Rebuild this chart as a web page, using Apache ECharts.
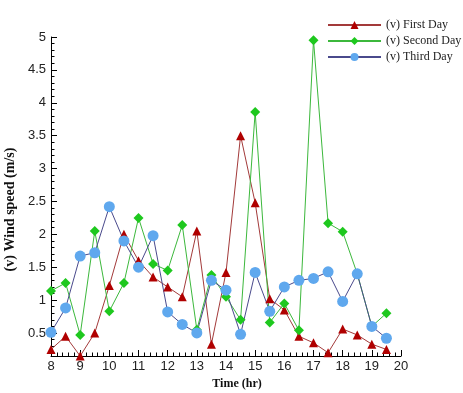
<!DOCTYPE html>
<html>
<head>
<meta charset="utf-8">
<script src="https://cdn.jsdelivr.net/npm/echarts@6/dist/echarts.min.js"></script>
<style>
  html, body { margin: 0; padding: 0; background: #fff; }
  #chart { width: 463px; height: 393px; }
</style>
</head>
<body>
<div id="chart"></div>
<script>
// time of day (hr)
const times = [8, 8.5, 9, 9.5, 10, 10.5, 11, 11.5, 12, 12.5, 13, 13.5, 14, 14.5, 15, 15.5, 16, 16.5, 17, 17.5, 18, 18.5, 19, 19.5];
// wind speed (m/s)
const firstDay = [0.25, 0.45, 0.15, 0.5, 1.22, 2.0, 1.6, 1.35, 1.2, 1.05, 2.05, 0.33, 1.42, 3.5, 2.48, 1.02, 0.85, 0.45, 0.35, 0.2, 0.56, 0.47, 0.33, 0.25];
const secondDay = [1.14, 1.26, 0.47, 2.05, 0.83, 1.26, 2.25, 1.55, 1.45, 2.14, 0.55, 1.38, 1.05, 0.7, 3.86, 0.66, 0.95, 0.54, 4.95, 2.17, 2.04, 1.4, 0.6, 0.8];
const thirdDay = [0.51, 0.88, 1.67, 1.72, 2.42, 1.9, 1.5, 1.98, 0.82, 0.63, 0.5, 1.3, 1.15, 0.48, 1.42, 0.83, 1.2, 1.3, 1.33, 1.43, 0.98, 1.4, 0.6, 0.42];
const seriesNames = ["(v) First Day", "(v) Second Day", "(v) Third Day"];
// y ticks
const yMajor = [0.5, 1, 1.5, 2, 2.5, 3, 3.5, 4, 4.5, 5];
const yMinor = [0.2, 0.3, 0.4, 0.6, 0.7, 0.8, 0.9, 1.1, 1.2, 1.3, 1.4, 1.6, 1.7, 1.8, 1.9, 2.1, 2.2, 2.3, 2.4, 2.6, 2.7, 2.8, 2.9, 3.1, 3.2, 3.3, 3.4, 3.6, 3.7, 3.8, 3.9, 4.1, 4.2, 4.3, 4.4, 4.6, 4.7, 4.8, 4.9];

const pairs = (arr) => times.map((t, i) => [t, arr[i]]);

const chart = echarts.init(document.getElementById("chart"));

const option = {
  backgroundColor: "#fff",
  animation: false,
  grid: { left: 51, right: 62, top: 37, bottom: 37, outerBoundsMode: "none" },
  legend: {
    orient: "vertical",
    left: 327,
    top: 19,
    padding: 0,
    itemWidth: 53,
    itemHeight: 10,
    itemGap: 4,
    textStyle: { fontFamily: "Liberation Serif", fontSize: 12, color: "#222" },
    data: seriesNames,
  },
  xAxis: {
    type: "value",
    min: 8,
    max: 20,
    interval: 1,
    name: "Time (hr)",
    nameLocation: "middle",
    nameGap: 21,
    nameTextStyle: {
      fontFamily: "Liberation Serif",
      fontWeight: "bold",
      fontSize: 12,
      color: "#111",
      padding: [0, 0, 0, 22],
    },
    axisLine: { lineStyle: { color: "#000", width: 1 } },
    axisTick: { inside: true, length: 6, lineStyle: { color: "#000" } },
    minorTick: { show: true, splitNumber: 5, length: 3.5, lineStyle: { color: "#000" } },
    axisLabel: { fontFamily: "Liberation Sans", fontSize: 13, color: "#222", margin: 4 },
    splitLine: { show: false },
  },
  yAxis: [
    {
      type: "value",
      min: 0.15,
      max: 5,
      position: "left",
      name: "(v) Wind speed (m/s)",
      nameLocation: "middle",
      nameGap: 28,
      nameTextStyle: {
        fontFamily: "Liberation Serif",
        fontWeight: "bold",
        fontSize: 14,
        color: "#111",
        padding: [0, 26, 0, 0],
      },
      axisLine: { show: true, lineStyle: { color: "#000", width: 1 } },
      axisTick: { show: true, inside: true, length: 6, customValues: yMajor, lineStyle: { color: "#000" } },
      axisLabel: { customValues: yMajor, fontFamily: "Liberation Sans", fontSize: 13, color: "#222", margin: 5 },
      splitLine: { show: false },
    },
    {
      // minor ticks only
      type: "value",
      min: 0.15,
      max: 5,
      position: "left",
      axisLine: { show: false },
      axisTick: { show: true, inside: true, length: 3.5, customValues: yMinor, lineStyle: { color: "#000" } },
      axisLabel: { show: false },
      splitLine: { show: false },
    },
  ],
  series: [
    {
      name: seriesNames[0],
      type: "line",
      data: pairs(firstDay),
      symbol: "triangle",
      symbolSize: 9,
      clip: false,
      lineStyle: { color: "#a33a3a", width: 1 },
      itemStyle: { color: "#b00000", borderWidth: 0 },
    },
    {
      name: seriesNames[1],
      type: "line",
      data: pairs(secondDay),
      symbol: "diamond",
      symbolSize: 10,
      clip: false,
      lineStyle: { color: "#3cb83c", width: 1 },
      itemStyle: { color: "#1ec81e", borderWidth: 0 },
    },
    {
      name: seriesNames[2],
      type: "line",
      data: pairs(thirdDay),
      symbol: "circle",
      symbolSize: 11,
      clip: false,
      lineStyle: { color: "#4a4a8c", width: 1 },
      itemStyle: { color: "#5fa8ee", borderWidth: 0 },
    },
  ],
};

chart.setOption(option);
</script>
</body>
</html>
